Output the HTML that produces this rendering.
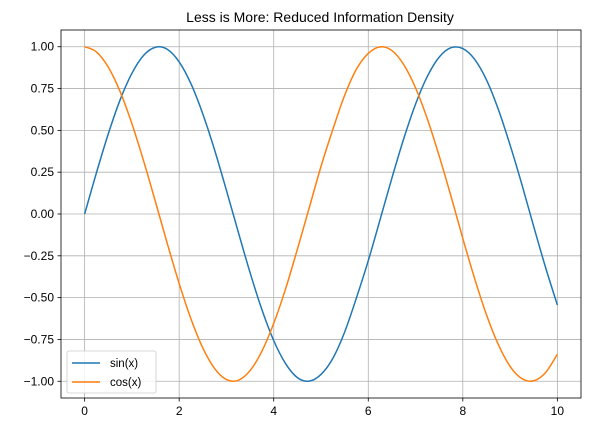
<!DOCTYPE html>
<html><head><meta charset="utf-8"><style>
body{margin:0;background:#fff;}
svg text{font-family:"Liberation Sans","DejaVu Sans",sans-serif;}
</style></head><body>
<svg id="chart" width="590" height="431" viewBox="0 0 590 431" xmlns="http://www.w3.org/2000/svg">
<text x="320" y="22" font-size="14" text-anchor="middle" fill="#000">Less is More: Reduced Information Density</text>
<g id="grid"></g><g id="series"></g><g id="axes"></g>
</svg>
<script>
const xValues=[0,0.25,0.5,0.75,1,1.25,1.5,1.75,2,2.25,2.5,2.75,3,3.25,3.5,3.75,4,4.25,4.5,4.75,5,5.25,5.5,5.75,6,6.25,6.5,6.75,7,7.25,7.5,7.75,8,8.25,8.5,8.75,9,9.25,9.5,9.75,10];
const sinValues=[0,0.247,0.479,0.682,0.841,0.949,0.997,0.984,0.909,0.778,0.598,0.382,0.141,-0.108,-0.351,-0.572,-0.757,-0.894,-0.978,-0.999,-0.959,-0.863,-0.706,-0.501,-0.279,-0.033,0.215,0.450,0.657,0.823,0.938,0.994,0.989,0.925,0.802,0.626,0.412,0.176,-0.075,-0.319,-0.544];
const cosValues=[1,0.969,0.878,0.732,0.540,0.315,0.071,-0.178,-0.416,-0.628,-0.801,-0.924,-0.990,-0.994,-0.936,-0.820,-0.654,-0.448,-0.211,0.036,0.284,0.505,0.709,0.866,0.960,0.999,0.977,0.893,0.754,0.568,0.347,0.106,-0.146,-0.386,-0.602,-0.780,-0.911,-0.984,-0.997,-0.948,-0.839];
const xTicks=[0,2,4,6,8,10];
const yTicks=[-1,-0.75,-0.5,-0.25,0,0.25,0.5,0.75,1];
const seriesNames=["sin(x)","cos(x)"];

const NS="http://www.w3.org/2000/svg";
const L=61,R=581,T=30,B=398;
const xMin=-0.5,xMax=10.5,yMin=-1.1,yMax=1.1;
const sx=v=>L+(v-xMin)/(xMax-xMin)*(R-L);
const sy=v=>B-(v-yMin)/(yMax-yMin)*(B-T);
function mk(tag,attrs,parent){const e=document.createElementNS(NS,tag);for(const k in attrs)e.setAttribute(k,attrs[k]);parent.appendChild(e);return e;}
const grid=document.getElementById('grid'),axes=document.getElementById('axes'),ser=document.getElementById('series');
xTicks.forEach(t=>{
  const g=mk('line',{x1:sx(t),x2:sx(t),y1:T,y2:B,stroke:'#b0b0b0','stroke-width':0.8},grid);
  
  
  mk('line',{x1:sx(t),x2:sx(t),y1:B,y2:B+3.5,stroke:'#000','stroke-width':0.8},axes);
  const tx=mk('text',{x:sx(t),y:B+17,'font-size':12,'text-anchor':'middle'},axes);
  tx.textContent=String(t);
  
  
});
yTicks.forEach(t=>{
  const g=mk('line',{x1:L,x2:R,y1:sy(t),y2:sy(t),stroke:'#b0b0b0','stroke-width':0.8},grid);
  
  
  mk('line',{x1:L-3.5,x2:L,y1:sy(t),y2:sy(t),stroke:'#000','stroke-width':0.8},axes);
  const tx=mk('text',{x:L-7,y:sy(t)+4,'font-size':12,'text-anchor':'end'},axes);
  tx.textContent=(t<0?'\u2212':'')+Math.abs(t).toFixed(2);
  
  
});
const frame=mk('rect',{x:L,y:T,width:R-L,height:B-T,fill:'none',stroke:'#000','stroke-width':0.8},axes);


function pathFor(ys){
  const p=xValues.map((x,i)=>[sx(x),sy(ys[i])]);
  let d='M'+p[0][0]+','+p[0][1];
  for(let i=0;i<p.length-1;i++){
    const p0=p[Math.max(0,i-1)],p1=p[i],p2=p[i+1],p3=p[Math.min(p.length-1,i+2)];
    const c1=[p1[0]+(p2[0]-p0[0])/6,p1[1]+(p2[1]-p0[1])/6];
    const c2=[p2[0]-(p3[0]-p1[0])/6,p2[1]-(p3[1]-p1[1])/6];
    d+=' C'+c1+' '+c2+' '+p2;
  }
  return d;
}
const colors=['#1f77b4','#ff7f0e'];
[sinValues,cosValues].forEach((ys,i)=>{
  const pth=mk('path',{d:pathFor(ys),fill:'none',stroke:colors[i],'stroke-width':1.5},ser);
  
  
});
const lg=mk('g',{},axes);


mk('rect',{x:67,y:351,width:89,height:42,rx:2,fill:'#fff','fill-opacity':0.8,stroke:'#ccc','stroke-width':0.8},lg);
seriesNames.forEach((n,i)=>{
  const y=363+i*19;
  mk('line',{x1:72,x2:100,y1:y,y2:y,stroke:colors[i],'stroke-width':1.5},lg);
  const t=mk('text',{x:110,y:y+4,'font-size':11.5},lg);
  t.textContent=n;
  
  
});
</script>
</body></html>
